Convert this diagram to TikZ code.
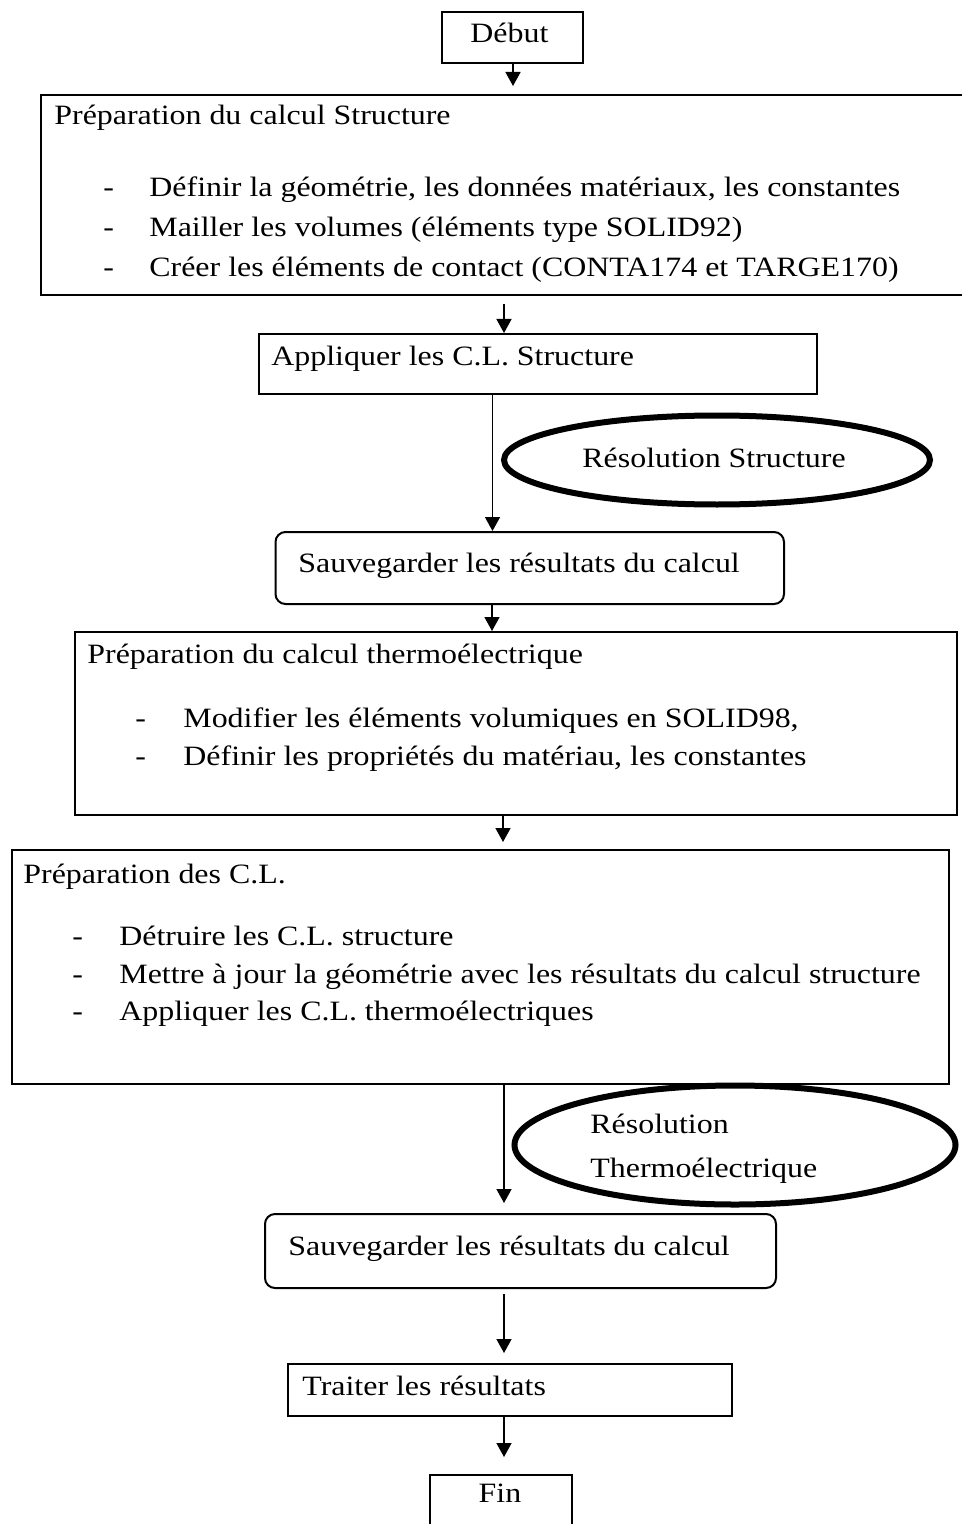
\documentclass[tikz,border=0pt]{standalone}
\usepackage{fontspec}
\setmainfont{Liberation Serif}[FakeStretch=1.14]
\usepackage{tikz}
\usetikzlibrary{positioning,arrows.meta,shapes.geometric}

\begin{document}
\begin{tikzpicture}[
  x=0.5pt, y=-0.5pt,
  box/.style={draw, line width=1pt, anchor=north west, inner sep=0pt},
  rbox/.style={box, rounded corners=5pt},
  oval/.style={draw, ellipse, line width=3pt, inner sep=0pt},
  txt/.style={anchor=base west, inner sep=0pt, font=\fontsize{14pt}{17pt}\selectfont},
  flow/.style={line width=0.75pt, -{Triangle[length=7pt,width=7.5pt]}}
]
\useasboundingbox (0,0) rectangle (962,1524);

% Boxes (pixel grid, y downwards)
\node[box, minimum width=70.5pt,   minimum height=25.5pt] (debut) at (441,11)   {};
\node[box, minimum width=470pt,    minimum height=100pt]  (prepS) at (40,94)    {};
\node[box, minimum width=279.25pt, minimum height=30pt]   (applS) at (257.5,333) {};
\node[rbox, minimum width=254.25pt, minimum height=36pt]  (saveS) at (274.5,531) {};
\node[box, minimum width=441pt,    minimum height=91.5pt] (prepT) at (74,631)   {};
\node[box, minimum width=468.5pt,  minimum height=117pt]  (prepCL) at (11,849)  {};
\node[rbox, minimum width=255.5pt, minimum height=37pt]   (saveT) at (264,1213) {};
\node[box, minimum width=222pt,    minimum height=26pt]   (trait) at (287,1363) {};
\node[box, minimum width=71pt,     minimum height=43pt]   (fin)   at (429,1474) {};

% Ovals
\node[oval, minimum width=213pt,   minimum height=44.5pt] (resS) at (717,460)  {};
\node[oval, minimum width=220.5pt, minimum height=59.5pt] (resT) at (735,1145) {};

% Texts
\node[txt] (tDebut) at (470,43) {Début};

\node[txt] (tPrepS) at (54,125) {Préparation du calcul Structure};
\node[txt] (dS1) at (103,197) {-};
\node[txt] (dS2) at (103,237) {-};
\node[txt] (dS3) at (103,277) {-};
\node[txt] (iS1) at (149,197) {Définir la géométrie, les données matériaux, les constantes};
\node[txt] (iS2) at (149,237) {Mailler les volumes (éléments type SOLID92)};
\node[txt] (iS3) at (149,277) {Créer les éléments de contact (CONTA174 et TARGE170)};

\node[txt] (tApplS) at (271,365) {Appliquer les C.L. Structure};
\node[txt] (tResS)  at (582,467) {Résolution Structure};
\node[txt] (tSaveS) at (298,572) {Sauvegarder les résultats du calcul};

\node[txt] (tPrepT) at (87,663) {Préparation du calcul thermoélectrique};
\node[txt] (dT1) at (135,727) {-};
\node[txt] (dT2) at (135,765) {-};
\node[txt] (iT1) at (183,727) {Modifier les éléments volumiques en SOLID98,};
\node[txt] (iT2) at (183,765) {Définir les propriétés du matériau, les constantes};

\node[txt] (tPrepCL) at (23,883) {Préparation des C.L.};
\node[txt] (dC1) at (72,945)  {-};
\node[txt] (dC2) at (72,983)  {-};
\node[txt] (dC3) at (72,1020) {-};
\node[txt] (iC1) at (119,945)  {Détruire les C.L. structure};
\node[txt] (iC2) at (119,983)  {Mettre à jour la géométrie avec les résultats du calcul structure};
\node[txt] (iC3) at (119,1020) {Appliquer les C.L. thermoélectriques};

\node[txt] (tResT1) at (590,1133) {Résolution};
\node[txt] (tResT2) at (590,1177) {Thermoélectrique};
\node[txt] (tSaveT) at (288,1255) {Sauvegarder les résultats du calcul};
\node[txt] (tTrait) at (302,1395) {Traiter les résultats};
\node[txt, anchor=base] (tFin) at (500,1502) {Fin};

% --- connectors ---
\draw[flow, shorten >=4pt] (debut.south -| 513,0) -- (prepS.north -| 513,0);
\draw[flow, shorten <=4pt] (prepS.south -| 504,0) -- (applS.north -| 504,0);
\draw[flow] (applS.south -| 492.5,0) -- (saveS.north -| 492.5,0);
\draw[flow] (saveS.south -| 492,0) -- (prepT.north -| 492,0);
\draw[flow, shorten >=3.5pt] (prepT.south -| 503,0) -- (prepCL.north -| 503,0);
\draw[flow, shorten >=5pt] (prepCL.south -| 504,0) -- (saveT.north -| 504,0);
\draw[flow, shorten <=2.5pt, shorten >=5pt] (saveT.south -| 504,0) -- (trait.north -| 504,0);
\draw[flow, shorten >=8.5pt] (trait.south -| 504,0) -- (fin.north -| 504,0);

\end{tikzpicture}
\end{document}
